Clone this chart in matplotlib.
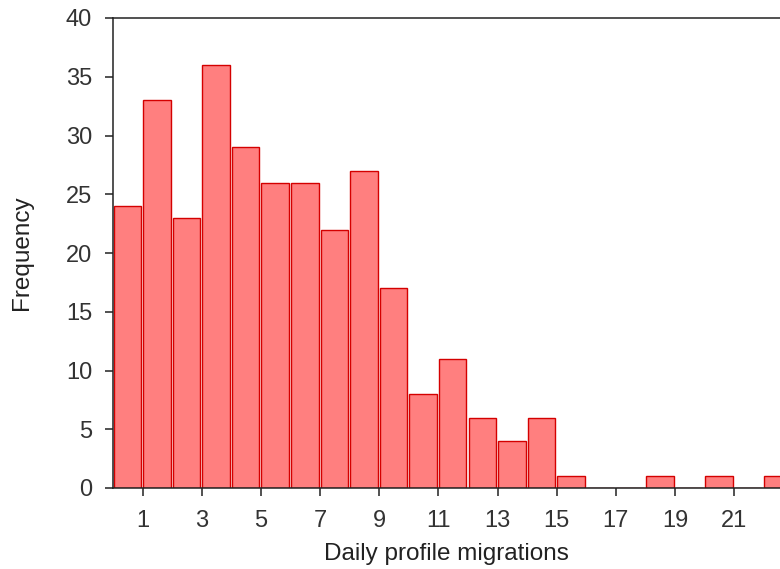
import matplotlib.pyplot as plt
import numpy as np

# bin counts, one bin per unit starting at 0
counts = [24, 33, 23, 36, 29, 26, 26, 22, 27, 17, 8, 11, 6, 4, 6, 1, 0, 0, 1, 0, 1, 0, 1]
x_ticks = [1, 3, 5, 7, 9, 11, 13, 15, 17, 19, 21]
y_ticks = [0, 5, 10, 15, 20, 25, 30, 35, 40]

plt.rcParams['font.family'] = ['Liberation Sans', 'DejaVu Sans']

fig = plt.figure(figsize=(7.8, 5.69), dpi=100)
W, H = 780, 569
ax = fig.add_axes([113 / W, (H - 488) / H, (780 - 113) / W, (488 - 18) / H])

lefts = np.arange(len(counts))
ax.bar(lefts + 0.02, counts, width=0.93, align='edge',
       color='#ff7f7f', edgecolor='#d40000', linewidth=1.0)

ax.set_xlim(0, 22.55)
ax.set_ylim(0, 40)
ax.set_xticks(x_ticks)
ax.set_yticks(y_ticks)
ax.spines['right'].set_visible(False)
for s in ['left', 'bottom', 'top']:
    ax.spines[s].set_linewidth(1.1)
    ax.spines[s].set_color('#222222')
ax.tick_params(direction='out', length=6, width=1.1, colors='#222222',
               labelsize=17, labelcolor='#333333')
ax.tick_params(axis='y', pad=9)
ax.tick_params(axis='x', pad=10)

ax.set_xlabel('Daily profile migrations', fontsize=17.5, color='#222222', labelpad=8)
ax.set_ylabel('Frequency', fontsize=17.5, color='#222222', labelpad=24)

fig.savefig('out.png', dpi=100)
